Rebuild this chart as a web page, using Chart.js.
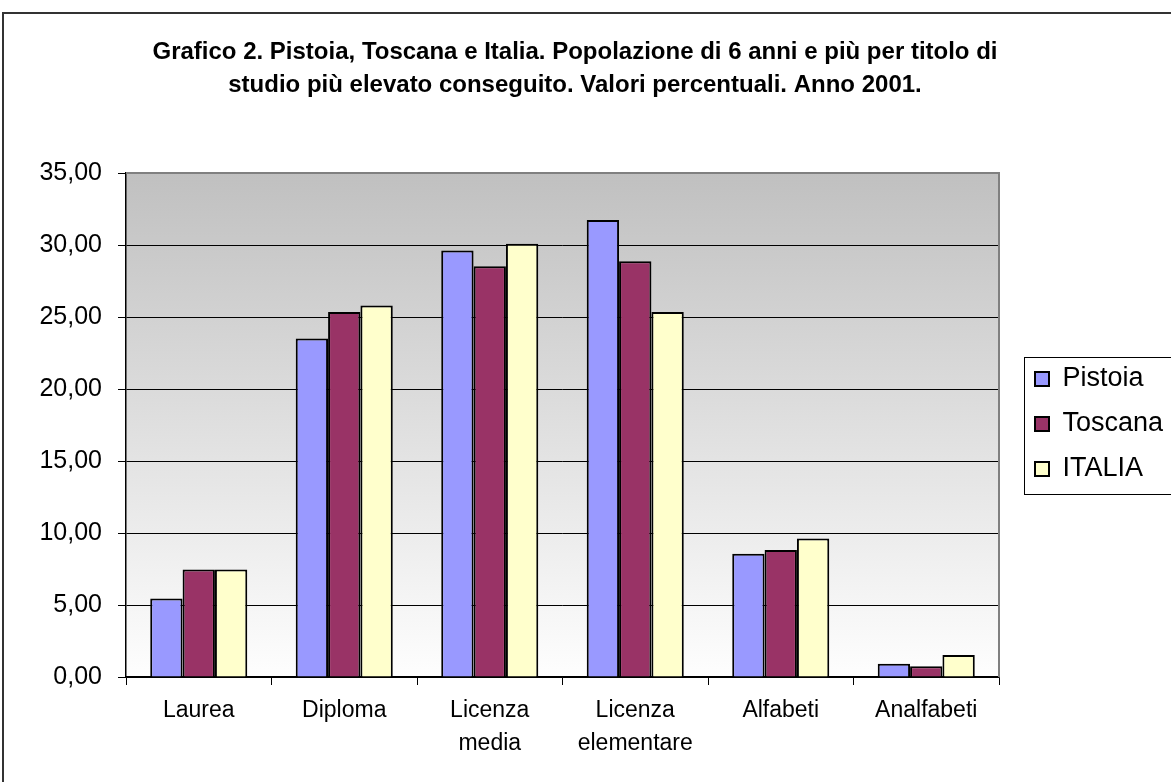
<!DOCTYPE html>
<html>
<head>
<meta charset="utf-8">
<script src="https://cdn.jsdelivr.net/npm/chart.js@4.4.0/dist/chart.umd.min.js"></script>
<style>
  html, body { margin: 0; padding: 0; background: #fff; }
  #chart { display: block; }
</style>
</head>
<body>
<canvas id="chart" width="1171" height="782"></canvas>
<script>
// categorie e valori
const categorie = ['Laurea', 'Diploma', ['Licenza', 'media'], ['Licenza', 'elementare'], 'Alfabeti', 'Analfabeti'];
const pistoia = [5.46, 23.50, 29.62, 31.74, 8.56, 0.92];
const toscana = [7.46, 25.34, 28.52, 28.87, 8.82, 0.75];
const italia  = [7.46, 25.80, 30.09, 25.34, 9.62, 1.53];
const yTicks = [0, 5, 10, 15, 20, 25, 30, 35];

const FONT = '"Liberation Sans", Arial, sans-serif';

// sfondo, cornice esterna e sfumatura dell'area del grafico
const sfondo = {
    id: 'sfondo',
    beforeDraw(chart) {
        const ctx = chart.ctx;
        const a = chart.chartArea;
        ctx.save();
        ctx.fillStyle = '#fff';
        ctx.fillRect(0, 0, chart.width, chart.height);
        ctx.strokeStyle = '#333';
        ctx.lineWidth = 2;
        ctx.strokeRect(3, 13, chart.width + 20, chart.height + 20);
        const g = ctx.createLinearGradient(0, a.top, 0, a.bottom);
        g.addColorStop(0, '#c0c0c0');
        g.addColorStop(1, '#fefefe');
        ctx.fillStyle = g;
        ctx.fillRect(a.left, a.top, a.right - a.left, a.bottom - a.top);
        ctx.restore();
    },
    beforeDatasetsDraw(chart) {
        const ctx = chart.ctx;
        const a = chart.chartArea;
        ctx.save();
        ctx.strokeStyle = '#808080';
        ctx.lineWidth = 2;
        ctx.beginPath();
        ctx.moveTo(a.left, a.top);
        ctx.lineTo(a.right, a.top);
        ctx.lineTo(a.right, a.bottom);
        ctx.stroke();
        ctx.restore();
    },
    afterDraw(chart) {
        // riquadro della legenda
        const lg = chart.legend;
        if (!lg || !lg.legendHitBoxes.length) return;
        const hb = lg.legendHitBoxes;
        const last = hb[hb.length - 1];
        const top = hb[0].top - 9;
        const bottom = last.top + last.height + 11;
        const ctx = chart.ctx;
        ctx.save();
        ctx.strokeStyle = '#000';
        ctx.lineWidth = 1;
        ctx.strokeRect(Math.round(hb[0].left - 11) + 0.5, Math.round(top) + 0.5, 300, Math.round(bottom - top));
        ctx.restore();
    }
};

// larghezza fissa della legenda e spostamento
const legendaFissa = {
    id: 'legendaFissa',
    beforeLayout(chart) {
        const lg = chart.legend;
        if (lg && !lg._patched) {
            const fit = lg.fit.bind(lg);
            lg.fit = function () { fit(); this.width = 148; };
            lg._patched = true;
        }
    },
    afterLayout(chart) {
        const lg = chart.legend;
        if (lg) {
            lg.left += 18; lg.right += 18;
            lg.top += 33; lg.bottom += 33;
        }
    }
};

const ctx = document.getElementById('chart').getContext('2d');

new Chart(ctx, {
    type: 'bar',
    data: {
        labels: categorie,
        datasets: [{
            label: 'Pistoia',
            data: pistoia,
            backgroundColor: '#9999ff',
            borderColor: '#000',
            borderWidth: 2
        }, {
            label: 'Toscana',
            data: toscana,
            backgroundColor: '#993366',
            borderColor: '#000',
            borderWidth: 2
        }, {
            label: 'ITALIA',
            data: italia,
            backgroundColor: '#ffffcc',
            borderColor: '#000',
            borderWidth: 2
        }]
    },
    options: {
        responsive: false,
        animation: false,
        layout: { padding: { left: 3, top: 0, right: 24, bottom: 0 } },
        datasets: {
            bar: { categoryPercentage: 0.667, barPercentage: 1 }
        },
        plugins: {
            title: {
                display: true,
                text: ['Grafico 2. Pistoia, Toscana e Italia. Popolazione di 6 anni e più per titolo di',
                       'studio più elevato conseguito. Valori percentuali. Anno 2001.'],
                color: '#000',
                font: { family: FONT, size: 24, weight: 'bold', lineHeight: 1.375 },
                padding: { top: 36, bottom: 71 }
            },
            legend: {
                position: 'right',
                labels: {
                    color: '#000',
                    font: { family: FONT, size: 27 },
                    boxWidth: 14,
                    boxHeight: 14,
                    padding: 18
                }
            },
            tooltip: { enabled: false }
        },
        scales: {
            x: {
                afterFit(scale) { scale.height = 105; },
                border: { color: '#000', width: 1.5 },
                grid: {
                    offset: true,
                    drawOnChartArea: false,
                    drawTicks: true,
                    tickLength: 8,
                    color: '#000'
                },
                ticks: {
                    color: '#000',
                    font: { family: FONT, size: 23, lineHeight: 1.4 },
                    padding: 10,
                    maxRotation: 0,
                    autoSkip: false
                }
            },
            y: {
                min: yTicks[0],
                max: yTicks[yTicks.length - 1],
                afterFit(scale) { scale.width = 123; },
                afterBuildTicks(scale) { scale.ticks = yTicks.map(v => ({ value: v })); },
                border: { color: '#000', width: 1.5 },
                grid: {
                    color: '#000',
                    lineWidth: 1,
                    tickLength: 8,
                    tickColor: '#000'
                },
                ticks: {
                    color: '#000',
                    font: { family: FONT, size: 25 },
                    padding: 16,
                    callback: v => v.toFixed(2).replace('.', ',')
                }
            }
        }
    },
    plugins: [sfondo, legendaFissa]
});
</script>
</body>
</html>
